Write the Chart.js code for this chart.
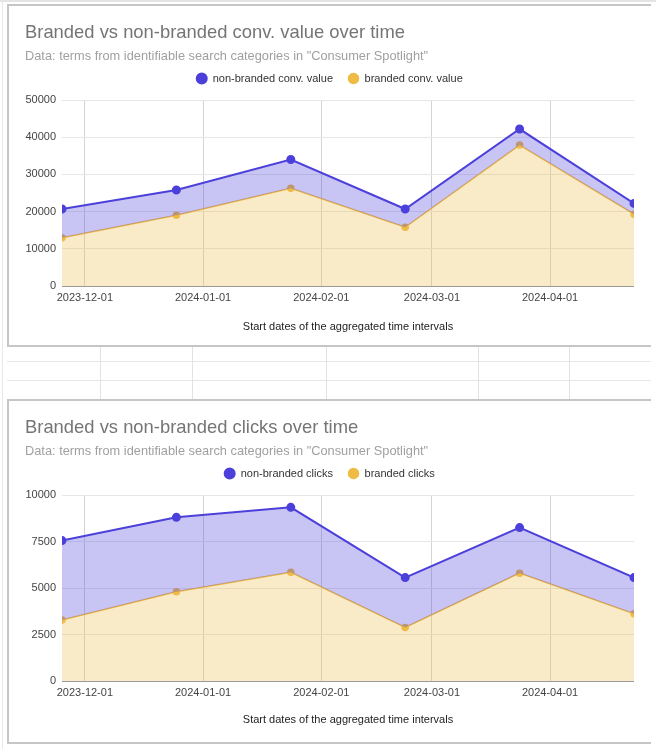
<!DOCTYPE html>
<html>
<head>
<meta charset="utf-8">
<script src="https://cdn.jsdelivr.net/npm/chart.js@4.4.1/dist/chart.umd.min.js"></script>
<style>
  body { margin: 0; background: #fff; width: 656px; height: 749px; position: relative; overflow: hidden; font-family: "Liberation Sans", Arial, sans-serif; }
  .frame { position: absolute; left: 7px; width: 644px; border-left: 2px solid #c6c6c6; border-top: 2px solid #c6c6c6; border-bottom: 2px solid #c6c6c6; box-sizing: border-box; }
  canvas { position: absolute; left: 9px; }
  .hline { position: absolute; left: 7px; width: 644px; height: 1px; background: #e6e6e6; }
  .vline { position: absolute; top: 347px; width: 1px; height: 53px; background: #e2e2e2; }
</style>
</head>
<body>
<div style="position:absolute;left:0;top:0;width:656px;height:2px;background:#e4e4e4"></div>
<div style="position:absolute;left:2px;top:0;width:1px;height:749px;background:#e8e8e8"></div>
<div class="frame" style="top:4px;height:343px"></div>
<div class="hline" style="top:361px"></div>
<div class="hline" style="top:380px"></div>
<div class="vline" style="left:100px"></div>
<div class="vline" style="left:192px"></div>
<div class="vline" style="left:326px"></div>
<div class="vline" style="left:478px"></div>
<div class="vline" style="left:569px"></div>
<div class="frame" style="top:399px;height:345px"></div>
<canvas id="chart1" width="642" height="338" style="top:7px"></canvas>
<canvas id="chart2" width="642" height="339" style="top:402px"></canvas>
<script>
const dates = ['2023-11-25', '2023-12-25', '2024-01-24', '2024-02-23', '2024-03-24', '2024-04-23'];
const tickDates = ['2023-12-01', '2024-01-01', '2024-02-01', '2024-03-01', '2024-04-01'];

const nonBrandedValue = [20700, 25800, 34000, 20700, 42200, 22200];
const brandedValue = [13000, 19000, 26300, 15800, 37900, 19300];
const valueTicks = [0, 10000, 20000, 30000, 40000, 50000];

const nonBrandedClicks = [7550, 8800, 9340, 5560, 8250, 5560];
const brandedClicks = [3280, 4800, 5850, 2880, 5800, 3620];
const clickTicks = [0, 2500, 5000, 7500, 10000];

const subtitleText = 'Data: terms from identifiable search categories in "Consumer Spotlight"';
const xTitle = 'Start dates of the aggregated time intervals';
const font = '"Liberation Sans", Arial, sans-serif';

// nudge the legend up a bit, like the sheets chart
const legendShift = {
    id: 'legendShift',
    afterLayout(chart) {
        let dy = chart.options.plugins.legendShift.dy;
        chart.legend.top += dy;
        chart.legend.bottom += dy;
    }
}

function toPoints(values) {
    return values.map((v, i) => ({ x: Date.parse(dates[i]), y: v }));
}

function makeChart(id, title, labels, nonBranded, branded, yTicks, xHeight, titlePad) {
    return new Chart(document.getElementById(id), {
        type: 'line',
        data: {
            datasets: [
                {
                    label: labels[0],
                    data: toPoints(nonBranded),
                    fill: '+1',
                    backgroundColor: 'rgba(76, 64, 218, 0.31)',
                    borderColor: '#4c40da',
                    borderWidth: 2,
                    pointRadius: 3.5,
                    pointBackgroundColor: '#4c40da',
                    pointBorderColor: '#4c40da',
                    tension: 0
                },
                {
                    label: labels[1],
                    data: toPoints(branded),
                    fill: 'origin',
                    backgroundColor: 'rgba(240, 190, 72, 0.3)',
                    borderColor: '#efbb45',
                    borderWidth: 1.5,
                    pointRadius: 3,
                    pointBackgroundColor: '#efbb45',
                    pointBorderColor: '#efbb45',
                    tension: 0
                }
            ]
        },
        options: {
            responsive: false,
            animation: false,
            layout: { padding: { left: 16, right: 17, top: 0, bottom: 0 } },
            scales: {
                x: {
                    type: 'linear',
                    min: Date.parse(dates[0]),
                    max: Date.parse(dates[dates.length - 1]),
                    afterBuildTicks: function (scale) {
                        scale.ticks = tickDates.map(d => ({ value: Date.parse(d) }));
                    },
                    afterFit: function (scale) { scale.height = xHeight; },
                    ticks: {
                        autoSkip: false,
                        maxRotation: 0,
                        padding: 5,
                        color: '#444',
                        font: { family: font, size: 11 },
                        callback: v => new Date(v).toISOString().slice(0, 10)
                    },
                    grid: { color: '#d4d4d4', drawTicks: false },
                    border: { display: false },
                    title: {
                        display: true,
                        text: xTitle,
                        color: '#222',
                        font: { family: font, size: 11 },
                        padding: { top: 4, bottom: titlePad }
                    }
                },
                y: {
                    min: yTicks[0],
                    max: yTicks[yTicks.length - 1],
                    afterBuildTicks: function (scale) {
                        scale.ticks = yTicks.map(v => ({ value: v }));
                    },
                    afterFit: function (scale) { scale.width = 37; },
                    ticks: {
                        padding: 6,
                        color: '#444',
                        font: { family: font, size: 11 },
                        callback: v => String(v)
                    },
                    grid: {
                        drawTicks: false,
                        color: ctx => ctx.tick.value === 0 ? '#9a9a9a' : '#e6e6e6'
                    },
                    border: { display: false }
                }
            },
            plugins: {
                legendShift: { dy: -6 },
                title: {
                    display: true,
                    text: title,
                    align: 'start',
                    color: '#757575',
                    font: { family: font, size: 18.4, weight: 'normal' },
                    padding: { top: 15, bottom: 0 }
                },
                subtitle: {
                    display: true,
                    text: subtitleText,
                    align: 'start',
                    color: '#a0a0a0',
                    font: { family: font, size: 12.8 },
                    padding: { top: 4.3, bottom: 0.3 }
                },
                legend: {
                    labels: {
                        usePointStyle: true,
                        pointStyle: 'circle',
                        boxWidth: 11,
                        boxHeight: 7.1,
                        padding: 15,
                        color: '#333',
                        font: { family: font, size: 11 }
                    }
                },
                tooltip: { enabled: false }
            }
        },
        plugins: [legendShift]
    });
}

makeChart('chart1', 'Branded vs non-branded conv. value over time',
    ['non-branded conv. value', 'branded conv. value'], nonBrandedValue, brandedValue, valueTicks, 59, 11);
makeChart('chart2', 'Branded vs non-branded clicks over time',
    ['non-branded clicks', 'branded clicks'], nonBrandedClicks, brandedClicks, clickTicks, 60, 14);
</script>
</body>
</html>
